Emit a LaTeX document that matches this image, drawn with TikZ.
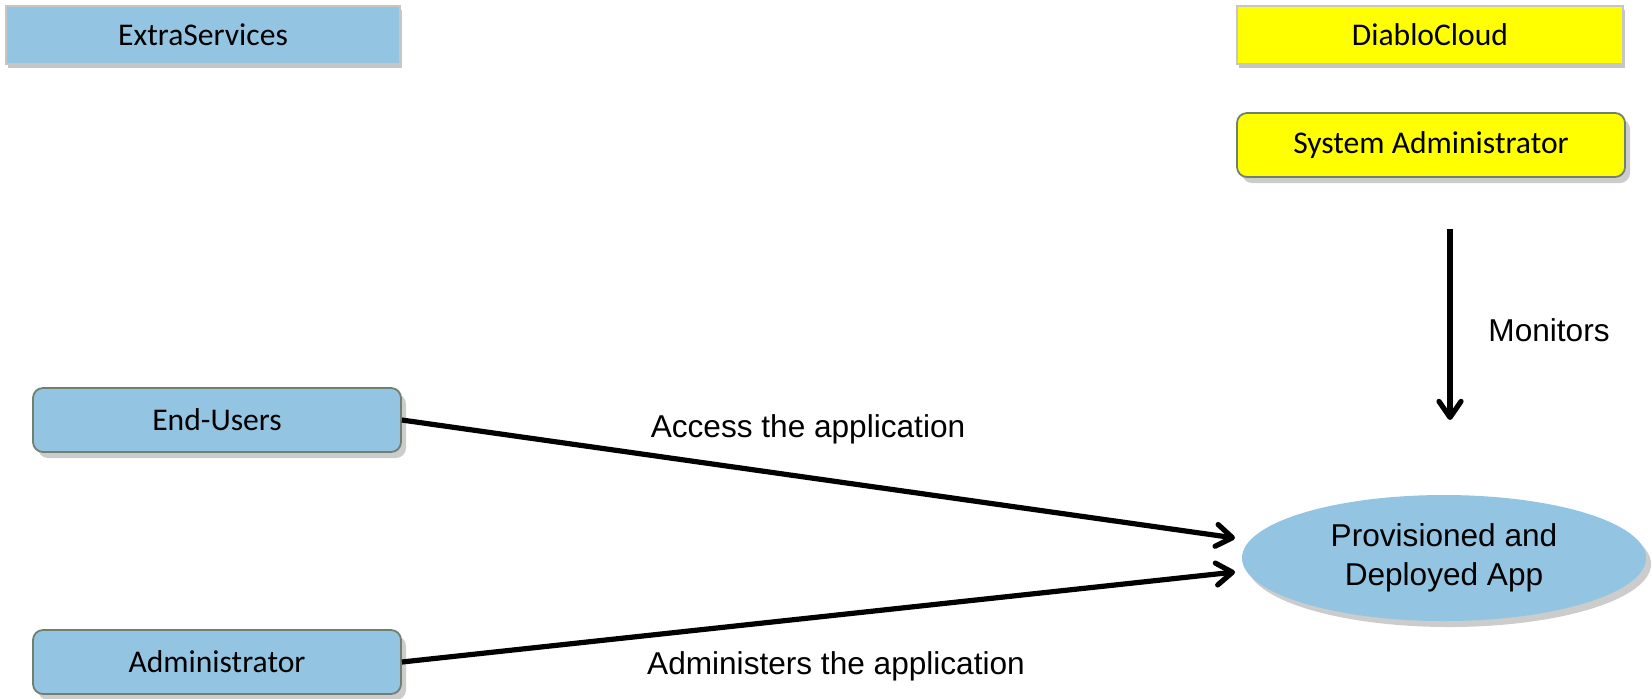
\documentclass[tikz,border=0pt]{standalone}
\usepackage{fontspec}
\setmainfont{Carlito}
\newfontfamily\arialfont{Liberation Sans}
\usepackage{tikz}
\usetikzlibrary{shapes.geometric,arrows.meta,shadows,positioning}
\definecolor{boxblue}{RGB}{147,197,226}
\definecolor{boxedge}{RGB}{112,128,112}
\definecolor{boxyellow}{RGB}{255,255,0}

\begin{document}
\begin{tikzpicture}[
    x=0.5pt, y=-0.5pt,
    header/.style={rectangle, draw=gray!45, line width=0.6pt, minimum height=29pt, inner sep=0pt, text centered, font=\fontsize{15.8}{19}\selectfont, drop shadow={shadow xshift=1.2pt, shadow yshift=-2.2pt, fill=gray!45, opacity=1}},
    actor/.style={rectangle, draw=boxedge, line width=0.9pt, rounded corners=5pt, minimum height=32pt, inner sep=0pt, text centered, font=\fontsize{15.8}{19}\selectfont, drop shadow={shadow xshift=2.5pt, shadow yshift=-3pt, fill=gray!40, opacity=1}},
    app/.style={ellipse, fill=boxblue, minimum width=202pt, minimum height=63pt, inner sep=0pt, align=center, font=\arialfont\fontsize{15.8}{19.5}\selectfont, drop shadow={shadow xshift=2.5pt, shadow yshift=-3pt, fill=gray!40, opacity=1}},
    link/.style={line width=2.6pt, -{Straight Barb[length=8pt,width=11pt,round]}},
    lbl/.style={font=\arialfont\fontsize{15.8}{19}\selectfont}
]
    \useasboundingbox (0,0) rectangle (1652,698);

    % Headers
    \node[header, fill=boxblue, minimum width=197pt] (extra) at (203,35) {ExtraServices};
    \node[header, fill=boxyellow, minimum width=193pt] (diablo) at (1430,35) {DiabloCloud};

    % Actors
    \node[actor, fill=boxyellow, minimum width=194pt] (sysadm) at (1431,145) {System Administrator};
    \node[actor, fill=boxblue, minimum width=184pt] (users) at (217,420) {End-Users};
    \node[actor, fill=boxblue, minimum width=184pt] (admin) at (217,662) {Administrator};

    % Application
    \node[app] (deployed) at (1444,558) {Provisioned and\\ Deployed App};

    % Connectors
    \coordinate (monTop) at (1450,229);
    \coordinate (monTip) at (1450,420);
    \coordinate (usersTip) at (1235,538);
    \coordinate (adminTip) at (1235,572);
    \draw[link] (monTop) -- (monTip);
    \draw[link] (users.east) -- (usersTip);
    \draw[link] (admin.east) -- (adminTip);

    % Labels
    \node[lbl] (monLbl) at (1549,330) {Monitors};
    \node[lbl] (usersLbl) at (808,429) {Access the application};
    \node[lbl] (adminLbl) at (836,666) {Administers the application};
\end{tikzpicture}
\end{document}
